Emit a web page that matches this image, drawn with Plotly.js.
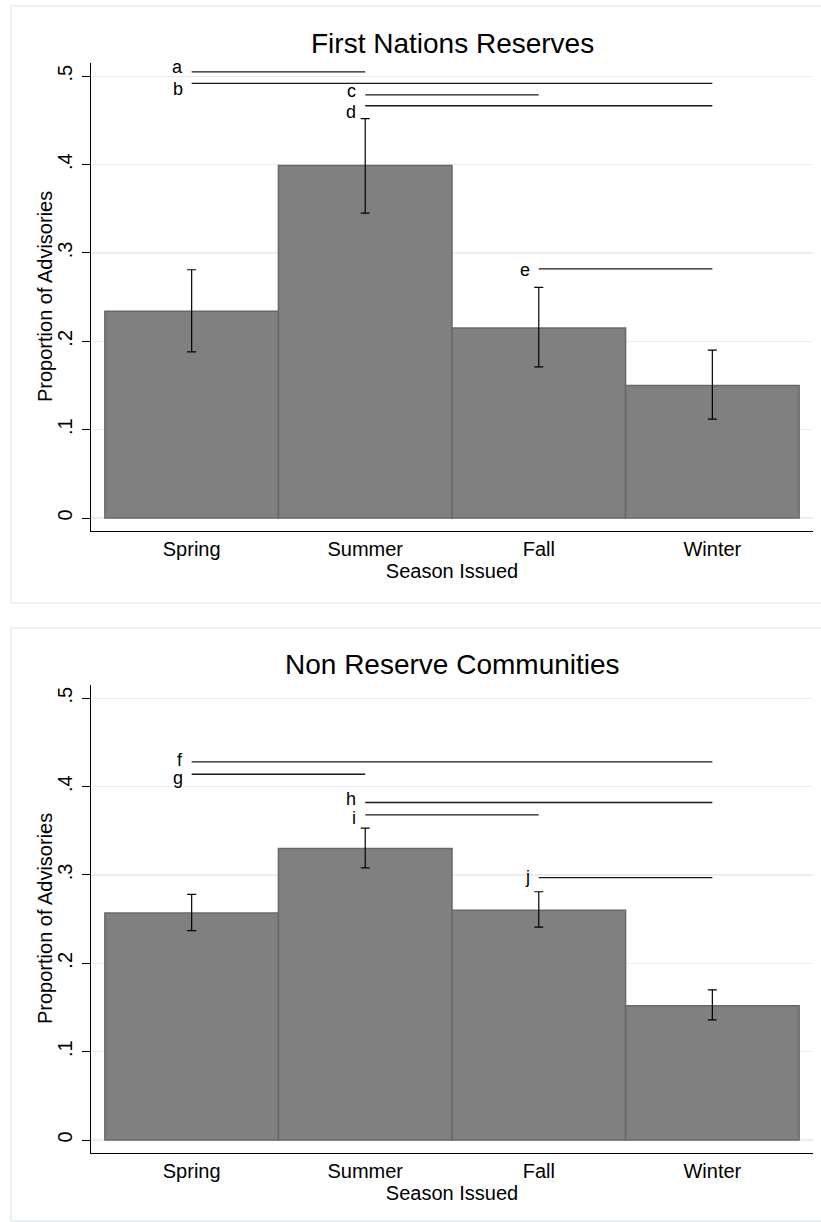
<!DOCTYPE html>
<html>
<head>
<meta charset="utf-8">
<script src="https://cdn.plot.ly/plotly-3.0.1.min.js"></script>
<style>
  html, body { margin: 0; padding: 0; background: #ffffff; }
  #chart { width: 821px; height: 1222px; }
</style>
</head>
<body>
<div id="chart"></div>
<script>
// Seasons on the x axis
const seasons = ['Spring', 'Summer', 'Fall', 'Winter'];
const yTickVals = [0, 0.1, 0.2, 0.3, 0.4, 0.5];
const yTickText = ['0', '.1', '.2', '.3', '.4', '.5'];

// First Nations reserves: proportion of advisories with confidence bounds
const reserveProp = [0.234, 0.399, 0.215, 0.150];
const reserveLo   = [0.188, 0.345, 0.171, 0.112];
const reserveHi   = [0.281, 0.452, 0.261, 0.190];

// Non reserve communities
const nonReserveProp = [0.257, 0.330, 0.260, 0.152];
const nonReserveLo   = [0.237, 0.308, 0.241, 0.136];
const nonReserveHi   = [0.278, 0.353, 0.281, 0.170];

// Pairwise differences: letter, from / to season index, bracket height
const reserveTags  = ['a', 'b', 'c', 'd', 'e'];
const reserveFrom  = [0, 0, 1, 1, 2];
const reserveTo    = [1, 3, 2, 3, 3];
const reserveTagY  = [0.505, 0.492, 0.479, 0.4666, 0.282];
const reserveTextY = [0.510, 0.486, 0.483, 0.460, 0.281];

const nonReserveTags  = ['f', 'g', 'h', 'i', 'j'];
const nonReserveFrom  = [0, 0, 1, 1, 2];
const nonReserveTo    = [3, 1, 3, 2, 3];
const nonReserveTagY  = [0.428, 0.414, 0.382, 0.368, 0.297];
const nonReserveTextY = [0.430, 0.410, 0.3865, 0.365, 0.298];

const FONT = 'Arial, "Liberation Sans", sans-serif';
const W = 821, H = 1222;

function barTrace(vals, lo, hi, xa, ya) {
  return {
    type: 'bar',
    x: seasons,
    y: vals,
    xaxis: xa,
    yaxis: ya,
    marker: { color: '#808080', line: { color: '#686868', width: 1.5 } },
    error_y: {
      type: 'data',
      symmetric: false,
      array: hi.map((h, i) => h - vals[i]),
      arrayminus: lo.map((l, i) => vals[i] - l),
      color: '#000000',
      thickness: 1.2,
      width: 4.5
    },
    hoverinfo: 'skip',
    showlegend: false
  };
}

function pairShapes(from, to, ys, xr, yr) {
  return ys.map((y, i) => ({
    type: 'line', xref: xr, yref: yr,
    x0: from[i], x1: to[i], y0: y, y1: y,
    line: { color: '#1a1a1a', width: 1.3 }
  }));
}

function pairLabels(tags, from, ys, xr, yr) {
  return tags.map((t, i) => ({
    xref: xr, yref: yr, x: from[i], y: ys[i],
    text: t, showarrow: false,
    xanchor: 'right', yanchor: 'middle', xshift: -7,
    font: { family: FONT, size: 18, color: '#000000' }
  }));
}

function xAxis(domain, anchor) {
  return {
    domain: domain, anchor: anchor,
    type: 'category',
    range: [-0.58, 3.58],
    showline: true, linecolor: '#000000', linewidth: 1.3,
    ticks: '', showgrid: false, zeroline: false,
    tickfont: { family: FONT, size: 20, color: '#000000' },
    title: { text: 'Season Issued', font: { family: FONT, size: 20, color: '#000000' }, standoff: 0 },
    fixedrange: true
  };
}

function yAxis(domain, anchor) {
  return {
    domain: domain, anchor: anchor,
    range: [-0.0147, 0.515],
    tickvals: yTickVals, ticktext: yTickText,
    tickangle: -90,
    ticks: 'outside', ticklen: 8, tickwidth: 1, tickcolor: '#000000',
    ticklabelstandoff: 2,
    showline: true, linecolor: '#000000', linewidth: 1.3,
    showgrid: true, gridcolor: '#e6eef0', gridwidth: 1.5,
    zeroline: false,
    tickfont: { family: FONT, size: 20, color: '#000000' },
    fixedrange: true
  };
}

const xDom = [91 / W, 813 / W];
const topDom = [(H - 531) / H, (H - 63) / H];
const botDom = [(H - 1153) / H, (H - 685) / H];

const data = [
  barTrace(reserveProp, reserveLo, reserveHi, 'x', 'y'),
  barTrace(nonReserveProp, nonReserveLo, nonReserveHi, 'x2', 'y2')
];

// Light frames around each panel
const frames = [
  { type: 'rect', xref: 'paper', yref: 'paper', layer: 'below',
    x0: 11 / W, x1: 1.01, y0: (H - 603) / H, y1: (H - 6) / H,
    line: { color: '#e6eef0', width: 1.5 }, fillcolor: 'rgba(0,0,0,0)' },
  { type: 'rect', xref: 'paper', yref: 'paper', layer: 'below',
    x0: 11 / W, x1: 1.01, y0: (H - 1221) / H, y1: (H - 628) / H,
    line: { color: '#e6eef0', width: 1.5 }, fillcolor: 'rgba(0,0,0,0)' }
];

function panelTitle(text, yPx) {
  return { xref: 'paper', yref: 'paper', x: 452 / W, y: (H - yPx) / H,
    text: text, showarrow: false, xanchor: 'center', yanchor: 'middle',
    font: { family: FONT, size: 28, color: '#000000' } };
}

function yTitle(dom) {
  return { xref: 'paper', yref: 'paper', x: 45 / W, y: (dom[0] + dom[1]) / 2,
    text: 'Proportion of Advisories', showarrow: false, textangle: -90,
    xanchor: 'center', yanchor: 'middle',
    font: { family: FONT, size: 20, color: '#000000' } };
}

const layout = {
  width: W, height: H,
  margin: { l: 0, r: 0, t: 0, b: 0 },
  paper_bgcolor: '#ffffff', plot_bgcolor: '#ffffff',
  bargap: 0,
  font: { family: FONT, color: '#000000' },
  xaxis: xAxis(xDom, 'y'),
  yaxis: yAxis(topDom, 'x'),
  xaxis2: xAxis(xDom, 'y2'),
  yaxis2: yAxis(botDom, 'x2'),
  shapes: frames
    .concat(pairShapes(reserveFrom, reserveTo, reserveTagY, 'x', 'y'))
    .concat(pairShapes(nonReserveFrom, nonReserveTo, nonReserveTagY, 'x2', 'y2')),
  annotations: [
      panelTitle('First Nations Reserves', 43),
      panelTitle('Non Reserve Communities', 664),
      yTitle(topDom), yTitle(botDom)
    ]
    .concat(pairLabels(reserveTags, reserveFrom, reserveTextY, 'x', 'y'))
    .concat(pairLabels(nonReserveTags, nonReserveFrom, nonReserveTextY, 'x2', 'y2')),
  showlegend: false
};

Plotly.newPlot('chart', data, layout, { displayModeBar: false, staticPlot: true });
</script>
</body>
</html>
